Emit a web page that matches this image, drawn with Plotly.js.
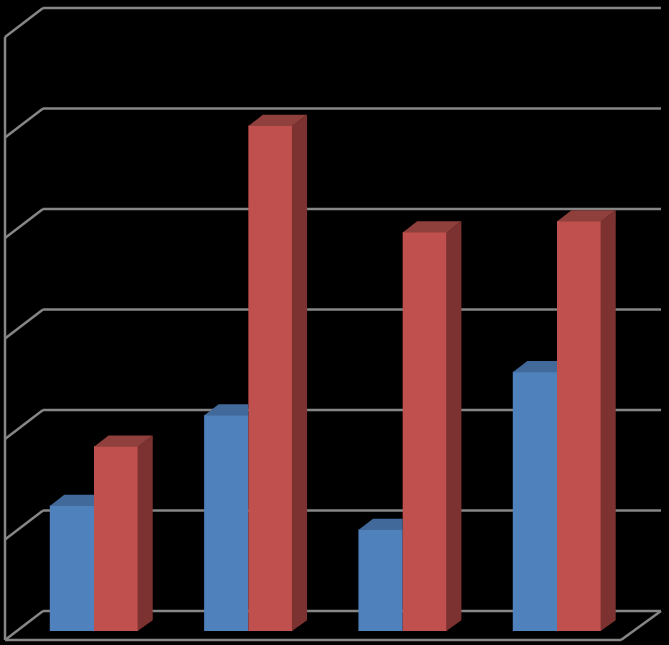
<!DOCTYPE html>
<html>
<head>
<meta charset="utf-8">
<script src="https://cdn.plot.ly/plotly-3.0.1.min.js"></script>
<style>html,body{margin:0;padding:0;background:#000;overflow:hidden}</style>
</head>
<body>
<div id="chart" style="width:669px;height:645px"></div>
<script>
// Data
var categories = [0, 1, 2, 3];
var blueValues = [1.25, 2.15, 1.01, 2.58];
var redValues = [1.84, 5.03, 3.97, 4.08];
var gridValues = [0, 1, 2, 3, 4, 5, 6];

// Oblique-projection settings, in axis units
var xRange = [-0.6091, 3.7257];
var yRange = [-0.1393, 6.2786];
var barHalf = 0.2865;
var depthX = 0.094, depthY = 0.1065;
var seamX = 0.004, seamY = 0.006;   // faces tuck slightly under the neighbouring face
var wallLeft = -0.5766, wallBackLeft = -0.3304, wallRight = 3.6738, wallFrontRight = 3.4147;
var wallFrontDrop = -0.0896, wallBackRise = 0.199;

var gridColor = '#868686';
var colors = {blue: '#4F81BD', blueTop: '#41699A', red: '#C0504D', redTop: '#8F3F3C', redSide: '#7C3230'};

function seg(x0, y0, x1, y1) {
  return {type: 'line', xref: 'x', yref: 'y', layer: 'below', x0: x0, y0: y0, x1: x1, y1: y1,
          line: {color: gridColor, width: 2.5}};
}
var shapes = [];
gridValues.forEach(function (g) {
  shapes.push(seg(wallLeft, g + wallFrontDrop, wallBackLeft, g + wallBackRise));
  shapes.push(seg(wallBackLeft, g + wallBackRise, wallRight, g + wallBackRise));
});
var gMax = gridValues[gridValues.length - 1];
shapes.push(seg(wallLeft, wallFrontDrop, wallLeft, gMax + wallFrontDrop));
shapes.push(seg(wallLeft, wallFrontDrop, wallFrontRight, wallFrontDrop));
shapes.push(seg(wallFrontRight, wallFrontDrop, wallRight, wallBackRise));

function face(xs, ys, color) {
  return {type: 'scatter', mode: 'lines', x: xs, y: ys, fill: 'toself', fillcolor: color,
          line: {width: 0, color: color}, hoverinfo: 'skip', showlegend: false};
}

var traces = [
  {type: 'bar', name: 'Series 1', x: categories, y: blueValues, marker: {color: colors.blue, line: {width: 0}}, hoverinfo: 'y'},
  {type: 'bar', name: 'Series 2', x: categories, y: redValues, marker: {color: colors.red, line: {width: 0}}, hoverinfo: 'y'}
];
categories.forEach(function (c, i) {
  var b = blueValues[i], r = redValues[i];
  var bFront = b - seamY, rFront = r - seamY;
  // blue top face, cut off where the red front begins
  traces.push(face([c - barHalf, c, c, c - barHalf + depthX, c - barHalf],
                   [bFront, bFront, b + depthY, b + depthY, bFront], colors.blueTop));
  // red top face
  traces.push(face([c, c + barHalf, c + barHalf + depthX, c + depthX, c],
                   [rFront, rFront, r + depthY, r + depthY, rFront], colors.redTop));
  // red side face
  var sx = c + barHalf - seamX;
  traces.push(face([sx, c + barHalf + depthX, c + barHalf + depthX, sx, sx],
                   [0, depthY, r + depthY, rFront, 0], colors.redSide));
});

var layout = {
  width: 669, height: 645,
  margin: {l: 0, r: 0, t: 0, b: 0, pad: 0},
  paper_bgcolor: '#000000', plot_bgcolor: '#000000',
  barmode: 'group', bargap: 0.427, bargroupgap: 0,
  showlegend: false,
  xaxis: {type: 'linear', range: xRange, visible: false, fixedrange: true},
  yaxis: {type: 'linear', range: yRange, visible: false, fixedrange: true},
  shapes: shapes
};
Plotly.newPlot('chart', traces, layout, {displayModeBar: false, staticPlot: true});
</script>
</body>
</html>
